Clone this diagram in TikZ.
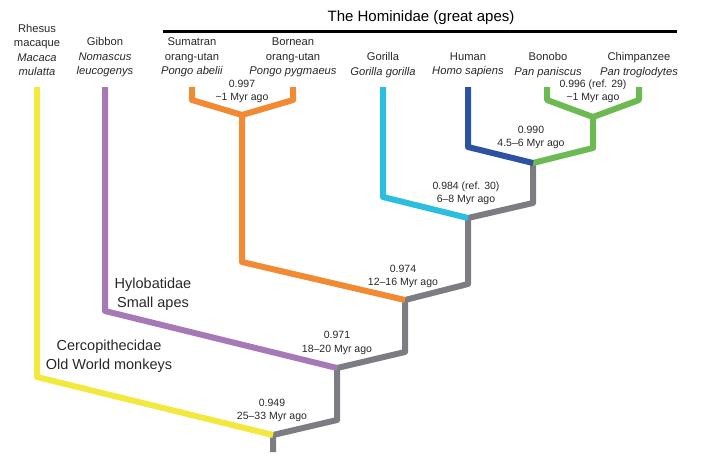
\documentclass[tikz,border=0pt]{standalone}
\usepackage{fontspec}
\setmainfont{Liberation Sans}
\definecolor{cYel}{RGB}{243,232,62}
\definecolor{cPur}{RGB}{166,120,181}
\definecolor{cOra}{RGB}{242,138,52}
\definecolor{cCya}{RGB}{44,190,224}
\definecolor{cBlu}{RGB}{46,82,162}
\definecolor{cGre}{RGB}{108,186,82}
\definecolor{cGra}{RGB}{124,125,130}
\definecolor{cTxt}{RGB}{40,40,40}
\begin{document}
\begin{tikzpicture}[x=1pt,y=-1pt,
  branch/.style={line width=6pt,line join=round,line cap=butt},
  species/.style={align=center,text=cTxt,inner sep=0pt,font=\fontsize{11.2}{14.5}\selectfont},
  stat/.style={align=center,text=cTxt,inner sep=0pt,font=\fontsize{10.5}{13.5}\selectfont},
  group/.style={align=center,text=cTxt,inner sep=0pt,font=\fontsize{14.5}{18.5}\selectfont}]
\useasboundingbox (0,0) rectangle (712,467);
% coordinates
\coordinate (tipR) at (37,87);  \coordinate (kR) at (37,377);  \coordinate (n1) at (273,435); \coordinate (root) at (273,452);
\coordinate (tipG) at (105,87); \coordinate (kG) at (105,311); \coordinate (n2) at (337,368); \coordinate (k1) at (337,420);
\coordinate (tipS) at (192,87); \coordinate (kS) at (192,100); \coordinate (tipB) at (293,87); \coordinate (kB) at (293,100);
\coordinate (nO) at (242,115); \coordinate (kO) at (242,262); \coordinate (n3) at (405,300); \coordinate (k2) at (405,352);
\coordinate (tipGo) at (383,87); \coordinate (kGo) at (383,197); \coordinate (n4) at (468,218); \coordinate (k3) at (468,284);
\coordinate (tipH) at (468,87); \coordinate (kH) at (468,147); \coordinate (n5) at (533,163); \coordinate (k4) at (533,203);
\coordinate (tipBo) at (547,87); \coordinate (kBo) at (547,100); \coordinate (tipC) at (639,87); \coordinate (kC) at (639,100);
\coordinate (nP) at (593,117); \coordinate (k5) at (593,148);
% branches
\draw[branch,cGra] (root) -- (n1) -- (k1) -- (n2);
\draw[branch,cGra] (n2) -- (k2) -- (n3);
\draw[branch,cGra] (n3) -- (k3) -- (n4);
\draw[branch,cGra] (n4) -- (k4) -- (n5);
\draw[branch,cGre] (n5) -- (k5) -- (nP);
\draw[branch,cYel] (tipR) -- (kR) -- (n1);
\draw[branch,cPur] (tipG) -- (kG) -- (n2);
\draw[branch,cOra] (tipS) -- (kS) -- (nO) -- (kB) -- (tipB);
\draw[branch,cOra] (nO) -- (kO) -- (n3);
\draw[branch,cCya] (tipGo) -- (kGo) -- (n4);
\draw[branch,cBlu] (tipH) -- (kH) -- (n5);
\draw[branch,cGre] (tipBo) -- (kBo) -- (nP) -- (kC) -- (tipC);
% title
\node[group,font=\fontsize{15}{18}\selectfont,text=black] (title) at (421,18) {The Hominidae (great apes)};
\coordinate (barL) at (163,31); \coordinate (barR) at (677,31);
\draw[line width=3pt,black] (barL) -- (barR);
% species
\node[species] (rhesus) at (37,50) {Rhesus\\macaque\\\textit{Macaca}\\\textit{mulatta}};
\node[species] (gibbon) at (105,57.5) {Gibbon\\\textit{Nomascus}\\\textit{leucogenys}};
\node[species] (sumatran) at (192,57.5) {Sumatran\\orang-utan\\\textit{Pongo abelii}};
\node[species] (bornean) at (293,57.5) {Bornean\\orang-utan\\\textit{Pongo pygmaeus}};
\node[species] (gorilla) at (383,65) {Gorilla\\\textit{Gorilla gorilla}};
\node[species] (human) at (468,65) {Human\\\textit{Homo sapiens}};
\node[species] (bonobo) at (548,65) {Bonobo\\\textit{Pan paniscus}};
\node[species] (chimp) at (639,65) {Chimpanzee\\\textit{Pan troglodytes}};
% stats
\node[stat] (s1) at (242,91.5) {0.997\\\textasciitilde 1 Myr ago};
\node[stat] (s2) at (593,91.5) {0.996 (ref. 29)\\\textasciitilde 1 Myr ago};
\node[stat] (s3) at (531,137.5) {0.990\\4.5--6 Myr ago};
\node[stat] (s4) at (466,193.5) {0.984 (ref. 30)\\6--8 Myr ago};
\node[stat] (s5) at (403,276.5) {0.974\\12--16 Myr ago};
\node[stat] (s6) at (337,343) {0.971\\18--20 Myr ago};
\node[stat] (s7) at (272,410.5) {0.949\\25--33 Myr ago};
% groups
\node[group] (hylo) at (153,294) {Hylobatidae\\Small apes};
\node[group] (cerco) at (109,356) {Cercopithecidae\\Old World monkeys};
\end{tikzpicture}
\end{document}
